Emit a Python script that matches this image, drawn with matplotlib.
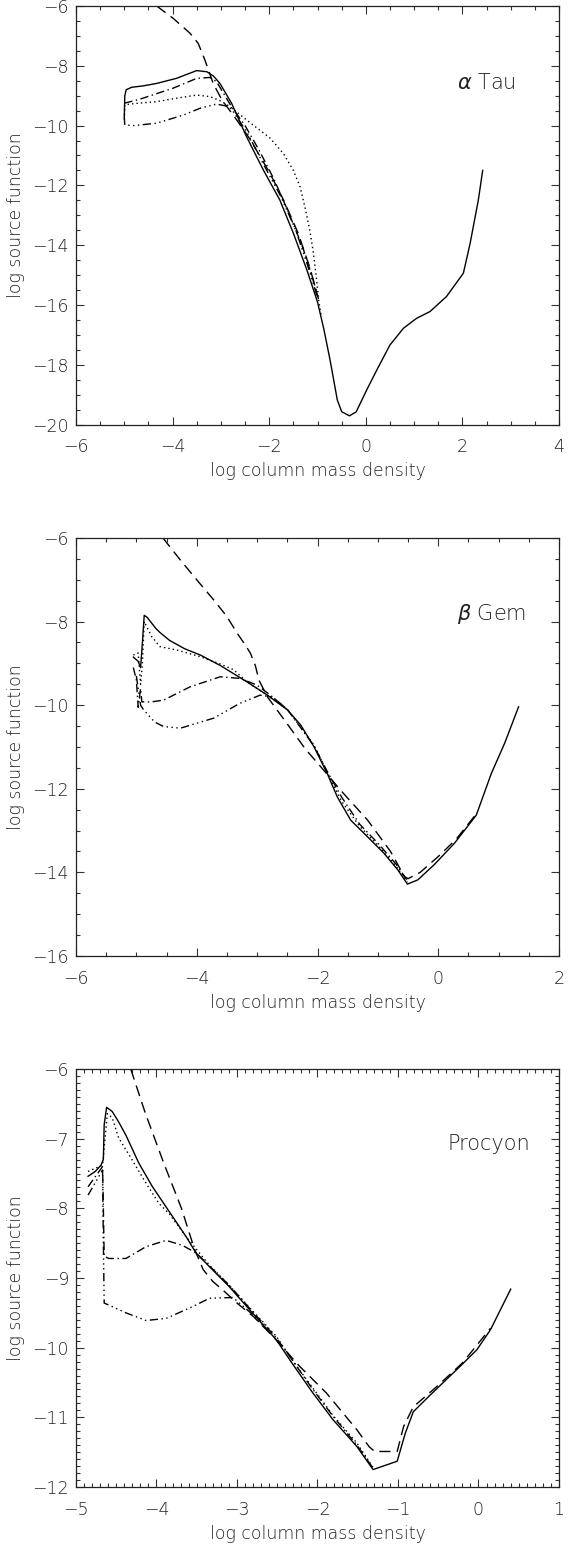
import matplotlib
matplotlib.use("Agg")
import matplotlib.pyplot as plt
from matplotlib.ticker import MultipleLocator

plt.rcParams['font.family'] = ['DejaVu Sans']
plt.rcParams['font.weight'] = 'light'
plt.rcParams['axes.labelweight'] = 'light'
plt.rcParams['mathtext.fontset'] = 'custom'
plt.rcParams['mathtext.it'] = 'DejaVu Sans:italic:light'
plt.rcParams['mathtext.rm'] = 'DejaVu Sans:light'

# ---------------- alpha Tau ----------------
a_solid_x = [-5.0, -4.99, -4.96, -4.85, -4.6, -4.33, -3.92, -3.5, -3.29, -3.15, -3.02, -2.78, -2.47, -2.12,
             -1.78, -1.5, -1.22, -1.0, -0.87, -0.74, -0.59, -0.5, -0.34, -0.2, 0.02, 0.23, 0.5, 0.78, 1.05,
             1.33, 1.67, 2.02, 2.16, 2.33, 2.42]
a_solid_y = [-9.7, -9.0, -8.8, -8.72, -8.67, -8.59, -8.42, -8.16, -8.2, -8.35, -8.59, -9.25, -10.37, -11.49,
             -12.49, -13.6, -14.83, -15.9, -16.8, -17.84, -19.18, -19.57, -19.71, -19.58, -18.84, -18.17,
             -17.34, -16.78, -16.45, -16.22, -15.72, -14.94, -13.94, -12.49, -11.5]
a_dot_x = [-5.0, -4.99, -4.7, -4.33, -3.9, -3.5, -3.23, -3.0, -2.81, -2.47, -1.98, -1.7, -1.5, -1.36,
           -1.25, -1.16, -1.09, -1.03, -0.97, -0.92]
a_dot_y = [-9.8, -9.3, -9.25, -9.2, -9.08, -8.98, -9.03, -9.18, -9.37, -9.81, -10.42, -10.95, -11.5, -12.05,
           -12.8, -13.5, -14.2, -15.0, -15.9, -16.4]
a_dash_x = [-4.33, -3.99, -3.64, -3.47, -3.33, -3.16, -2.98, -2.7, -2.4, -2.0, -1.7, -1.4, -1.15, -1.0]
a_dash_y = [-6.0, -6.41, -6.91, -7.25, -7.81, -8.59, -9.14, -9.75, -10.45, -11.55, -12.5, -13.6, -14.8, -15.7]
a_dd_x = [-5.0, -4.72, -3.99, -3.5, -3.23, -3.09, -2.78, -2.5, -2.2, -1.9, -1.6, -1.3, -1.1, -0.98]
a_dd_y = [-9.25, -9.14, -8.75, -8.42, -8.39, -8.53, -9.37, -10.0, -10.85, -11.8, -12.9, -14.1, -15.1, -15.8]
a_d3_x = [-5.0, -4.99, -4.8, -4.33, -3.78, -3.43, -3.09, -2.88, -2.78, -2.45, -2.1, -1.75, -1.45, -1.2, -1.0]
a_d3_y = [-9.7, -9.98, -10.0, -9.92, -9.65, -9.42, -9.28, -9.35, -9.45, -10.25, -11.35, -12.4, -13.5, -14.7,
          -15.75]

# ---------------- beta Gem ----------------
b_solid_x = [-5.05, -4.97, -4.93, -4.9, -4.87, -4.82, -4.75, -4.68, -4.61, -4.45, -4.2, -3.94, -3.61, -3.17,
             -2.83, -2.5, -2.28, -2.06, -1.84, -1.67, -1.45, -1.17, -0.9, -0.67, -0.51, -0.34, -0.07, 0.27,
             0.63, 0.88, 1.1, 1.33]
b_solid_y = [-8.85, -8.95, -9.1, -8.5, -7.85, -7.9, -8.03, -8.16, -8.26, -8.45, -8.65, -8.8, -9.05, -9.44,
             -9.76, -10.11, -10.47, -10.99, -11.63, -12.2, -12.75, -13.15, -13.54, -13.94, -14.28, -14.18,
             -13.82, -13.3, -12.63, -11.63, -10.91, -10.04]
b_dot_x = [-5.05, -4.97, -4.93, -4.9, -4.87, -4.75, -4.61, -4.33, -3.94, -3.6, -3.39, -3.17, -2.83,
           -2.5, -2.06, -1.84, -1.6, -1.3, -1.0, -0.7, -0.51]
b_dot_y = [-8.8, -8.75, -9.5, -9.0, -8.0, -8.35, -8.6, -8.68, -8.84, -9.02, -9.15, -9.44, -9.76,
           -10.1, -10.95, -11.6, -12.3, -12.9, -13.35, -13.85, -14.22]
b_dash_x = [-4.56, -4.27, -4.0, -3.72, -3.5, -3.33, -3.2, -3.11, -3.03, -2.97, -2.83, -2.5, -2.2, -1.9,
            -1.62, -1.17, -0.79, -0.56, -0.5, -0.3, 0.0, 0.3, 0.63]
b_dash_y = [-6.0, -6.53, -7.0, -7.48, -7.88, -8.28, -8.55, -8.76, -9.05, -9.4, -9.8, -10.45, -11.05,
            -11.55, -12.03, -12.75, -13.5, -14.1, -14.15, -14.0, -13.62, -13.2, -12.6]
b_dd_x = [-5.05, -5.0, -4.97, -4.93, -4.91, -4.75, -4.55, -4.11, -3.61, -3.28, -3.0, -2.78, -2.5, -2.06,
          -1.84, -1.6, -1.3, -1.0, -0.7, -0.51]
b_dd_y = [-9.1, -9.4, -10.05, -9.6, -9.92, -9.92, -9.88, -9.56, -9.32, -9.36, -9.52, -9.76, -10.1, -10.97,
          -11.58, -12.2, -12.85, -13.3, -13.8, -14.2]
b_d3_x = [-5.0, -4.97, -4.93, -4.88, -4.7, -4.55, -4.27, -3.72, -3.28, -2.95, -2.75, -2.5]
b_d3_y = [-9.3, -9.6, -10.0, -10.11, -10.4, -10.51, -10.55, -10.31, -9.95, -9.76, -9.8, -10.1]

# ---------------- Procyon ----------------
p_solid_x = [-4.85, -4.76, -4.69, -4.66, -4.65, -4.62, -4.55, -4.47, -4.38, -4.22, -4.05, -3.84, -3.63,
             -3.51, -3.34, -3.1, -2.84, -2.51, -2.3, -2.07, -1.81, -1.51, -1.31, -1.01, -0.91, -0.81,
             -0.6, -0.23, -0.02, 0.15, 0.4]
p_solid_y = [-7.54, -7.47, -7.38, -7.3, -6.8, -6.55, -6.61, -6.76, -6.95, -7.35, -7.69, -8.05, -8.41,
             -8.64, -8.84, -9.12, -9.46, -9.89, -10.25, -10.63, -11.03, -11.42, -11.75, -11.63, -11.23,
             -10.92, -10.68, -10.27, -10.03, -9.74, -9.16]
p_dot_x = [-4.85, -4.67, -4.64, -4.61, -4.55, -4.47, -4.3, -4.13, -3.97, -3.84, -3.63, -3.34, -3.1,
           -2.84, -2.51, -2.3, -2.07, -1.81, -1.51, -1.31]
p_dot_y = [-7.47, -7.38, -7.0, -6.64, -6.7, -6.99, -7.31, -7.64, -7.93, -8.08, -8.41, -8.82, -9.1,
           -9.43, -9.84, -10.2, -10.56, -10.97, -11.37, -11.72]
p_dash_x = [-4.32, -4.14, -3.91, -3.69, -3.53, -3.42, -3.3, -3.15, -3.01, -2.79, -2.52, -2.22, -1.89,
            -1.51, -1.36, -1.29, -1.01, -0.93, -0.81, -0.51, -0.2, 0.15]
p_dash_y = [-6.0, -6.63, -7.35, -8.0, -8.58, -8.88, -9.05, -9.2, -9.35, -9.56, -9.88, -10.27, -10.65,
            -11.18, -11.42, -11.49, -11.49, -11.13, -10.85, -10.55, -10.22, -9.72]
p_dd_x = [-4.85, -4.67, -4.66, -4.65, -4.59, -4.38, -4.13, -3.88, -3.68, -3.51, -3.34, -3.1, -2.84,
          -2.51, -2.3, -2.07, -1.81, -1.51, -1.31]
p_dd_y = [-7.69, -7.4, -8.0, -8.69, -8.72, -8.72, -8.55, -8.46, -8.53, -8.64, -8.83, -9.1, -9.44,
          -9.86, -10.2, -10.58, -10.98, -11.4, -11.73]
p_d3_x = [-4.85, -4.67, -4.66, -4.65, -4.55, -4.38, -4.13, -3.88, -3.55, -3.34, -3.05, -2.83, -2.65]
p_d3_y = [-7.81, -7.45, -8.5, -9.36, -9.41, -9.5, -9.61, -9.58, -9.41, -9.29, -9.28, -9.5, -9.72]

star_names = [r'$\alpha$ Tau', r'$\beta$ Gem', 'Procyon']
xlims = [(-6, 4), (-6, 2), (-5, 1)]
ylims = [(-20, -6), (-16, -6), (-12, -6)]
major = [2, 2, 1]
minor = [0.5, 0.5, 0.1]

panels = [
    [(a_solid_x, a_solid_y), (a_dot_x, a_dot_y), (a_dash_x, a_dash_y), (a_dd_x, a_dd_y), (a_d3_x, a_d3_y)],
    [(b_solid_x, b_solid_y), (b_dot_x, b_dot_y), (b_dash_x, b_dash_y), (b_dd_x, b_dd_y), (b_d3_x, b_d3_y)],
    [(p_solid_x, p_solid_y), (p_dot_x, p_dot_y), (p_dash_x, p_dash_y), (p_dd_x, p_dd_y), (p_d3_x, p_d3_y)],
]
styles = ['-', (0, (1, 2.2)), (0, (8, 4.5)), (0, (6, 2.5, 1, 2.5)), (0, (6, 2.5, 1, 2.5, 1, 2.5, 1, 2.5))]

W, H = 570, 1545
fig = plt.figure(figsize=(W / 100, H / 100), dpi=100)
left, right = 76, 559
tops = [6, 538, 1069]
bottoms = [424.5, 956, 1487]
text_pos = [(0.91, 0.815), (0.932, 0.818), (0.94, 0.82)]
txt_color = '#222222'

for i in range(3):
    ax = fig.add_axes([left / W, 1 - bottoms[i] / H, (right - left) / W, (bottoms[i] - tops[i]) / H])
    for (xs, ys), ls in zip(panels[i], styles):
        ax.plot(xs, ys, color='black', lw=1.0, linestyle=ls)
    ax.set_xlim(*xlims[i])
    ax.set_ylim(*ylims[i])
    ax.xaxis.set_major_locator(MultipleLocator(major[i]))
    ax.yaxis.set_major_locator(MultipleLocator(major[i]))
    ax.xaxis.set_minor_locator(MultipleLocator(minor[i]))
    ax.yaxis.set_minor_locator(MultipleLocator(minor[i]))
    ax.tick_params(which='both', direction='in', top=True, right=True, width=0.8, color='#333333',
                   labelcolor=txt_color)
    ax.tick_params(which='major', length=6)
    ax.tick_params(which='minor', length=3)
    ax.tick_params(axis='x', which='major', pad=10, labelsize=12.5)
    ax.tick_params(axis='y', which='major', pad=5, labelsize=12.5)
    for sp in ax.spines.values():
        sp.set_linewidth(0.9)
        sp.set_color('#222222')
    ax.set_xlabel('log column mass density', fontsize=12.5, color=txt_color, fontweight='light')
    ax.set_ylabel('log source function', fontsize=12.5, color=txt_color, fontweight='light')
    ax.xaxis.set_label_coords(0.5, -0.09)
    ax.yaxis.set_label_coords(-0.105, 0.5)
    ax.text(text_pos[i][0], text_pos[i][1], star_names[i], transform=ax.transAxes,
            ha='right', va='center', fontsize=15, color=txt_color, fontweight='light')

fig.savefig('out.png', dpi=100)
